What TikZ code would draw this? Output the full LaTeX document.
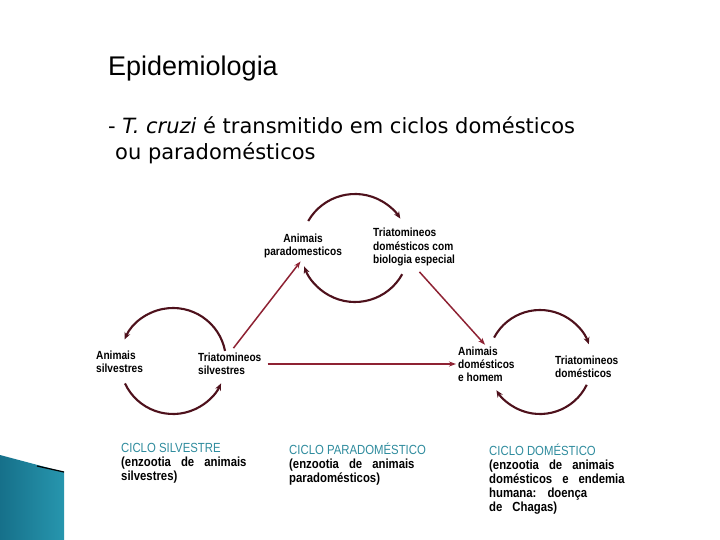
\documentclass[tikz,border=0pt]{standalone}
\usepackage{fontspec}
\setmainfont{DejaVu Sans}
\newfontfamily\titlefont{Liberation Sans}
\newfontfamily\labfont[FakeStretch=0.86]{Liberation Sans}
\usetikzlibrary{arrows.meta}
\definecolor{arccol}{HTML}{4E111C}
\definecolor{linecol}{HTML}{8E2233}
\definecolor{capteal}{HTML}{2F8C9E}
\definecolor{decoA}{HTML}{16708A}
\definecolor{decoB}{HTML}{2796AE}
\newcommand{\capset}{\spaceskip=10pt plus 2pt minus 1pt\relax}
\newcommand{\capnl}{\\\capset}
\tikzset{
  lab/.style={inner sep=0pt, align=left, font=\fontsize{11.8}{13.2}\labfont\bfseries},
  capbox/.style={inner sep=0pt, align=left, anchor=north west, font=\fontsize{13.2}{14}\labfont\bfseries},
  cyclearc/.style={draw=arccol, line width=2.1pt, -{Stealth[length=7pt,width=6pt]}},
  link/.style={draw=linecol, line width=1.5pt, -{Stealth[length=7pt,width=5pt]}},
}
\newcommand{\capHead}[1]{{\color{capteal}\mdseries #1}}
\begin{document}
\begin{tikzpicture}[x=1pt,y=1pt]
\useasboundingbox (0,0) rectangle (720,-540);
\fill[white] (0,0) rectangle (720,-540);

% decoration lower-left
\shade[left color=decoA, right color=decoB] (0,-455) -- (64,-472) -- (64,-540) -- (0,-540) -- cycle;
\draw[black, line width=1.2pt] (37,-466) -- (64,-472);

% title and text
\node[anchor=base west, inner sep=0pt, font=\fontsize{27}{32}\titlefont] (title) at (108,-76) {Epidemiologia};
\node[anchor=base west, inner sep=0pt, font=\fontsize{21}{26}\selectfont] (line1) at (108,-134) {- \textit{T. cruzi} é transmitido em ciclos domésticos};
\node[anchor=base west, inner sep=0pt, font=\fontsize{21}{26}\selectfont] (line2) at (115,-160) {ou paradomésticos};

% circle centres
\coordinate (cT) at (355,-248);
\coordinate (cL) at (173,-361);
\coordinate (cR) at (540,-362);

% labels
\node[lab, align=center] (animpar) at (303,-246) {Animais\\paradomesticos};
\node[lab, anchor=west] (triesp) at (373,-247) {Triatomineos\\domésticos com\\biologia especial};
\node[lab, anchor=west] (animsil) at (96,-362) {Animais\\silvestres};
\node[lab, anchor=west] (trisil) at (198,-364) {Triatomineos\\silvestres};
\node[lab, anchor=west] (animdom) at (458,-364) {Animais\\domésticos\\e homem};
\node[lab, anchor=west] (tridom) at (555,-367) {Triatomineos\\domésticos};

% cycle arcs
\draw[cyclearc] (cT) ++(150:54) arc[start angle=150, end angle=33, radius=54];
\draw[cyclearc] (cT) ++(-29:54) arc[start angle=-29, end angle=-160, radius=54];
\draw[cyclearc] (cL) ++(11:53) arc[start angle=11, end angle=156, radius=53];
\draw[cyclearc] (cL) ++(205:53) arc[start angle=205, end angle=335, radius=53];
\draw[cyclearc] (cR) ++(152:52) arc[start angle=152, end angle=20, radius=52];
\draw[cyclearc] (cR) ++(-26:52) arc[start angle=-26, end angle=-147, radius=52];

% links
\draw[link, shorten <=6pt, shorten >=4pt] (trisil.north) -- (animpar.south);
\draw[link, shorten <=8pt, shorten >=2pt] (triesp.south) -- (animdom.north);
\draw[link, shorten <=6pt, shorten >=2pt] (trisil.east) -- (animdom.west);

% captions
\node[capbox] (capS) at (121,-443) {\capHead{CICLO SILVESTRE}\capnl(enzootia de animais\capnl silvestres)};
\node[capbox] (capP) at (289,-443) {\capHead{CICLO PARADOMÉSTICO}\capnl(enzootia de animais\capnl paradomésticos)};
\node[capbox] (capD) at (489,-444) {\capHead{CICLO DOMÉSTICO}\capnl(enzootia de animais\capnl domésticos e endemia\capnl humana: doença\capnl de Chagas)};
\end{tikzpicture}
\end{document}
